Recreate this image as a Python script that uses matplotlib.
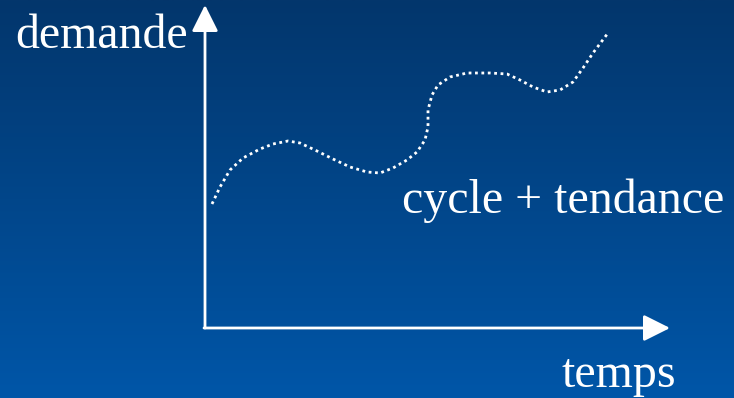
import numpy as np
import matplotlib
matplotlib.use("Agg")
import matplotlib.pyplot as plt

# curve (time, demand), arbitrary units
temps = [7, 15, 25, 38, 55, 68, 83, 95, 112, 128, 145, 162, 175, 188, 202, 212,
         220, 223, 223, 227, 233, 245, 262, 285, 302, 315, 328, 342, 355, 368,
         378, 388, 403]
demande = [123, 140, 157, 169, 178, 183, 186, 184, 176, 168, 160, 155, 154, 159,
           167, 175, 187, 200, 217, 232, 242, 250, 254, 254, 253, 247, 240, 235,
           237, 245, 259, 274, 294]

x_label = "temps"
y_label = "demande"
curve_label = "cycle + tendance"

fig = plt.figure(figsize=(7.34, 3.98), dpi=100)
ax = fig.add_axes([0, 0, 1, 1])
ax.set_xlim(-205, 529)
ax.set_ylim(-71, 327)
ax.axis("off")

# blue gradient background
grad = np.linspace(0, 1, 256)[:, None]
top = np.array([0x03, 0x36, 0x6c]) / 255
bottom = np.array([0x00, 0x56, 0xa8]) / 255
img = top + (bottom - top) * grad[:, :, None]
ax.imshow(img, extent=[0, 1, 0, 1], transform=ax.transAxes, aspect="auto", zorder=0)

# axes arrows
arrow = dict(arrowstyle="-|>,head_length=0.9,head_width=0.45", color="white",
             lw=2, mutation_scale=18, shrinkA=0, shrinkB=0)
ax.annotate("", xy=(0, 322), xytext=(0, -1), arrowprops=arrow, zorder=3)
ax.annotate("", xy=(465, -1), xytext=(-1, -1), arrowprops=arrow, zorder=3)

# dotted curve
ax.plot(temps, demande, color="white", lw=2, linestyle=(0, (1, 1.3)),
        dash_capstyle="butt", solid_joinstyle="round", zorder=2)

font = dict(family="Liberation Serif", size=34.5, color="white")
ax.text(-190, 279, y_label, ha="left", va="baseline", **font)
ax.text(197, 114, curve_label, ha="left", va="baseline", **font)
ax.text(357, -60, x_label, ha="left", va="baseline", **font)

fig.savefig("out.png", dpi=100)
